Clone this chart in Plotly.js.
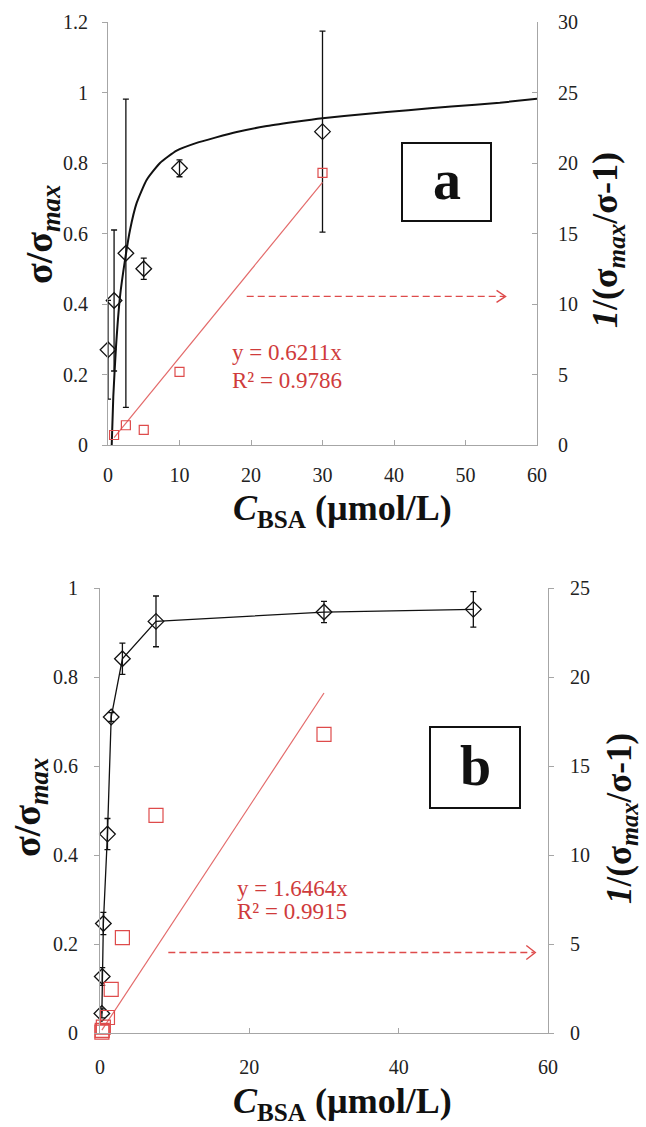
<!DOCTYPE html>
<html>
<head>
<meta charset="utf-8">
<script src="https://cdn.plot.ly/plotly-3.0.1.min.js"></script>
<style>
  html, body { margin: 0; padding: 0; background: #fff; }
  #chart { width: 646px; height: 1127px; }
</style>
</head>
<body>
<div id="chart"></div>
<script>
// ---- Panel a: measured sigma/sigma_max with error bars (left axis) ----
const aConc = [0, 0.85, 2.5, 5, 10, 30];
const aSigma = [0.27, 0.41, 0.544, 0.50, 0.785, 0.889];
const aSigmaErr = [0.14, 0.20, 0.437, 0.03, 0.024, 0.285];

// Fitted saturation curve for panel a
const aCurveConc = [0.52, 0.74, 1.12, 1.68, 2.38, 3.08, 4.0, 5.4, 7.27, 9.6, 12.4, 15, 18, 22, 26, 30, 36, 42, 48, 54.8, 60];
const aCurveSigma = [0.0, 0.137, 0.279, 0.421, 0.525, 0.61, 0.686, 0.752, 0.80, 0.835, 0.857, 0.872, 0.888, 0.904, 0.916, 0.927, 0.939, 0.950, 0.960, 0.971, 0.982];

// Linearised values 1/(sigma_max/sigma - 1) (right axis)
const aLinConc = [0.85, 2.5, 5, 10, 30];
const aLinVal = [0.71, 1.4, 1.07, 5.18, 19.3];
const aSlope = 0.6211;
const aR2 = 0.9786;

// ---- Panel b ----
const bConc = [0.25, 0.3, 0.45, 1, 1.5, 3, 7.5, 30, 50];
const bSigma = [0.044, 0.127, 0.246, 0.447, 0.71, 0.841, 0.925, 0.946, 0.952];
const bSigmaErr = [0.01, 0.02, 0.025, 0.035, 0.01, 0.035, 0.057, 0.024, 0.04];

const bLinConc = [0.25, 0.3, 0.45, 1, 1.5, 3, 7.5, 30];
const bLinVal = [0.05, 0.15, 0.33, 0.87, 2.45, 5.36, 12.23, 16.78];
// Trend line as drawn on the linear axis
const bFitConc = [0.25, 30];
const bFitVal = [0.16, 19.1];
const bSlope = 1.6464;
const bR2 = 0.9915;

// Tick values
const aXTicks = [0, 10, 20, 30, 40, 50, 60];
const bXTicks = [0, 20, 40, 60];

const W = 646, H = 1127;
const px = v => v / W;
const py = v => 1 - v / H;

const serif = '"Liberation Serif", "Times New Roman", Times, serif';
const red = '#de4b4b';
const redLine = '#e36a6a';
const redText = '#cf3b3b';
const axisGray = '#a6a6a6';

const aFitX = [aLinConc[0], aLinConc[aLinConc.length - 1]];
const aFitY = aFitX.map(c => aSlope * c);

const traces = [
  // panel a
  { x: aCurveConc, y: aCurveSigma, xaxis: 'x', yaxis: 'y', mode: 'lines',
    line: { color: '#111', width: 2, shape: 'spline', smoothing: 0.5 }, hoverinfo: 'skip' },
  { x: aConc, y: aSigma, xaxis: 'x', yaxis: 'y', mode: 'markers', cliponaxis: false,
    marker: { symbol: 'diamond-open', size: 12, color: '#111', line: { width: 1.3, color: '#111' } },
    error_y: { type: 'data', array: aSigmaErr, color: '#111', thickness: 1.3, width: 3 } },
  { x: aFitX, y: aFitY, xaxis: 'x', yaxis: 'y2', mode: 'lines',
    line: { color: redLine, width: 1.2 } },
  { x: aLinConc, y: aLinVal, xaxis: 'x', yaxis: 'y2', mode: 'markers', cliponaxis: false,
    marker: { symbol: 'square-open', size: 9, color: red, line: { width: 1.2, color: red } } },
  // panel b
  { x: bConc, y: bSigma, xaxis: 'x2', yaxis: 'y3', mode: 'lines+markers', cliponaxis: false,
    line: { color: '#111', width: 1.3 },
    marker: { symbol: 'diamond-open', size: 12, color: '#111', line: { width: 1.3, color: '#111' } },
    error_y: { type: 'data', array: bSigmaErr, color: '#111', thickness: 1.3, width: 3 } },
  { x: bFitConc, y: bFitVal, xaxis: 'x2', yaxis: 'y4', mode: 'lines',
    line: { color: redLine, width: 1.2 } },
  { x: bLinConc, y: bLinVal, xaxis: 'x2', yaxis: 'y4', mode: 'markers', cliponaxis: false,
    marker: { symbol: 'square-open', size: 14, color: red, line: { width: 1.2, color: red } } }
];

const tickFont = { family: serif, size: 20, color: '#222' };
const baseAxis = {
  showgrid: false, zeroline: false, showline: true, linecolor: axisGray, linewidth: 1,
  tickcolor: axisGray, ticklen: 5, tickwidth: 1, tickfont: tickFont, fixedrange: true
};

const titleFont = size => ({ family: serif, size: size, color: '#111' });

const layout = {
  width: W, height: H,
  margin: { l: 0, r: 0, t: 0, b: 0 },
  paper_bgcolor: '#fff', plot_bgcolor: 'rgba(0,0,0,0)',
  font: { family: serif },
  showlegend: false,
  xaxis: Object.assign({}, baseAxis, {
    domain: [px(108), px(537)], anchor: 'y', range: [0, 60],
    tickvals: aXTicks, ticks: 'inside', ticklabelstandoff: 12
  }),
  yaxis: Object.assign({}, baseAxis, {
    domain: [py(445), py(22)], anchor: 'x', range: [0, 1.2], dtick: 0.2,
    ticks: 'outside', ticklabelstandoff: 10
  }),
  yaxis2: Object.assign({}, baseAxis, {
    overlaying: 'y', side: 'right', anchor: 'x', range: [0, 30], dtick: 5,
    ticks: 'inside', ticklabelstandoff: 16
  }),
  xaxis2: Object.assign({}, baseAxis, {
    domain: [px(100), px(548)], anchor: 'y3', range: [0, 60],
    tickvals: bXTicks, ticks: 'inside', ticklabelstandoff: 16
  }),
  yaxis3: Object.assign({}, baseAxis, {
    domain: [py(1033), py(588)], anchor: 'x2', range: [0, 1], dtick: 0.2,
    ticks: 'outside', ticklabelstandoff: 12
  }),
  yaxis4: Object.assign({}, baseAxis, {
    overlaying: 'y3', side: 'right', anchor: 'x2', range: [0, 25], dtick: 5,
    ticks: 'outside', ticklabelstandoff: 12
  }),
  shapes: [
    // framed panel letters
    { type: 'rect', xref: 'paper', yref: 'paper', x0: px(402), x1: px(491), y0: py(221), y1: py(143),
      line: { color: '#111', width: 2 } },
    { type: 'rect', xref: 'paper', yref: 'paper', x0: px(430), x1: px(520), y0: py(808), y1: py(727),
      line: { color: '#111', width: 2 } },
    // dashed arrows pointing to the right-hand axis
    { type: 'line', xref: 'x', yref: 'y2', x0: 19.4, x1: 55.4, y0: 10.54, y1: 10.54,
      line: { color: red, width: 1.4, dash: '7px,4px' } },
    { type: 'path', xref: 'x', yref: 'y2', xsizemode: 'pixel', ysizemode: 'pixel',
      xanchor: 55.6, yanchor: 10.54, path: 'M-9,6 L0,0 L-9,-6',
      line: { color: red, width: 1.4 } },
    { type: 'line', xref: 'x2', yref: 'y4', x0: 9.15, x1: 58.1, y0: 4.52, y1: 4.52,
      line: { color: red, width: 1.4, dash: '7px,4px' } },
    { type: 'path', xref: 'x2', yref: 'y4', xsizemode: 'pixel', ysizemode: 'pixel',
      xanchor: 58.3, yanchor: 4.52, path: 'M-9,7 L0,0 L-9,-7',
      line: { color: red, width: 1.4 } }
  ],
  annotations: [
    // axis titles, panel a
    { xref: 'paper', yref: 'paper', x: px(42), y: py(235), textangle: -90, showarrow: false,
      xanchor: 'center', yanchor: 'middle',
      text: '<b>σ/σ<sub><i>max</i></sub></b>', font: titleFont(38) },
    { xref: 'paper', yref: 'paper', x: px(607), y: py(240), textangle: -90, showarrow: false,
      xanchor: 'center', yanchor: 'middle',
      text: '<b><i>1</i>/(σ<sub><i>max</i></sub>/σ-1)</b>', font: titleFont(36) },
    { xref: 'paper', yref: 'paper', x: px(342), y: py(510), showarrow: false,
      xanchor: 'center', yanchor: 'middle', borderpad: 0,
      text: '<b><i>C</i><sub>BSA</sub> (µmol/L)</b>', font: titleFont(36) },
    // axis titles, panel b
    { xref: 'paper', yref: 'paper', x: px(30), y: py(808), textangle: -90, showarrow: false,
      xanchor: 'center', yanchor: 'middle',
      text: '<b>σ/σ<sub><i>max</i></sub></b>', font: titleFont(38) },
    { xref: 'paper', yref: 'paper', x: px(621), y: py(819), textangle: -90, showarrow: false,
      xanchor: 'center', yanchor: 'middle',
      text: '<b><i>1</i>/(σ<sub><i>max</i></sub>/σ-1)</b>', font: titleFont(35) },
    { xref: 'paper', yref: 'paper', x: px(342), y: py(1103), showarrow: false,
      xanchor: 'center', yanchor: 'middle', borderpad: 0,
      text: '<b><i>C</i><sub>BSA</sub> (µmol/L)</b>', font: titleFont(36) },
    // panel letters
    { xref: 'paper', yref: 'paper', x: px(446.5), y: py(180), showarrow: false,
      xanchor: 'center', yanchor: 'middle',
      text: '<b>a</b>', font: titleFont(56) },
    { xref: 'paper', yref: 'paper', x: px(475), y: py(766), showarrow: false,
      xanchor: 'center', yanchor: 'middle',
      text: '<b>b</b>', font: titleFont(56) },
    // trend line equations
    { xref: 'x', yref: 'y2', x: 17.1, y: 6.54, showarrow: false, xanchor: 'left', yanchor: 'middle',
      text: 'y = ' + aSlope + 'x', font: { family: serif, size: 23, color: redText } },
    { xref: 'x', yref: 'y2', x: 17.1, y: 4.55, showarrow: false, xanchor: 'left', yanchor: 'middle',
      text: 'R² = ' + aR2, font: { family: serif, size: 23, color: redText } },
    { xref: 'x2', yref: 'y4', x: 18.1, y: 8.13, showarrow: false, xanchor: 'left', yanchor: 'middle',
      text: 'y = ' + bSlope + 'x', font: { family: serif, size: 23, color: redText } },
    { xref: 'x2', yref: 'y4', x: 18.1, y: 6.8, showarrow: false, xanchor: 'left', yanchor: 'middle',
      text: 'R² = ' + bR2, font: { family: serif, size: 23, color: redText } }
  ]
};

Plotly.newPlot('chart', traces, layout, { staticPlot: true, displayModeBar: false });
</script>
</body>
</html>
